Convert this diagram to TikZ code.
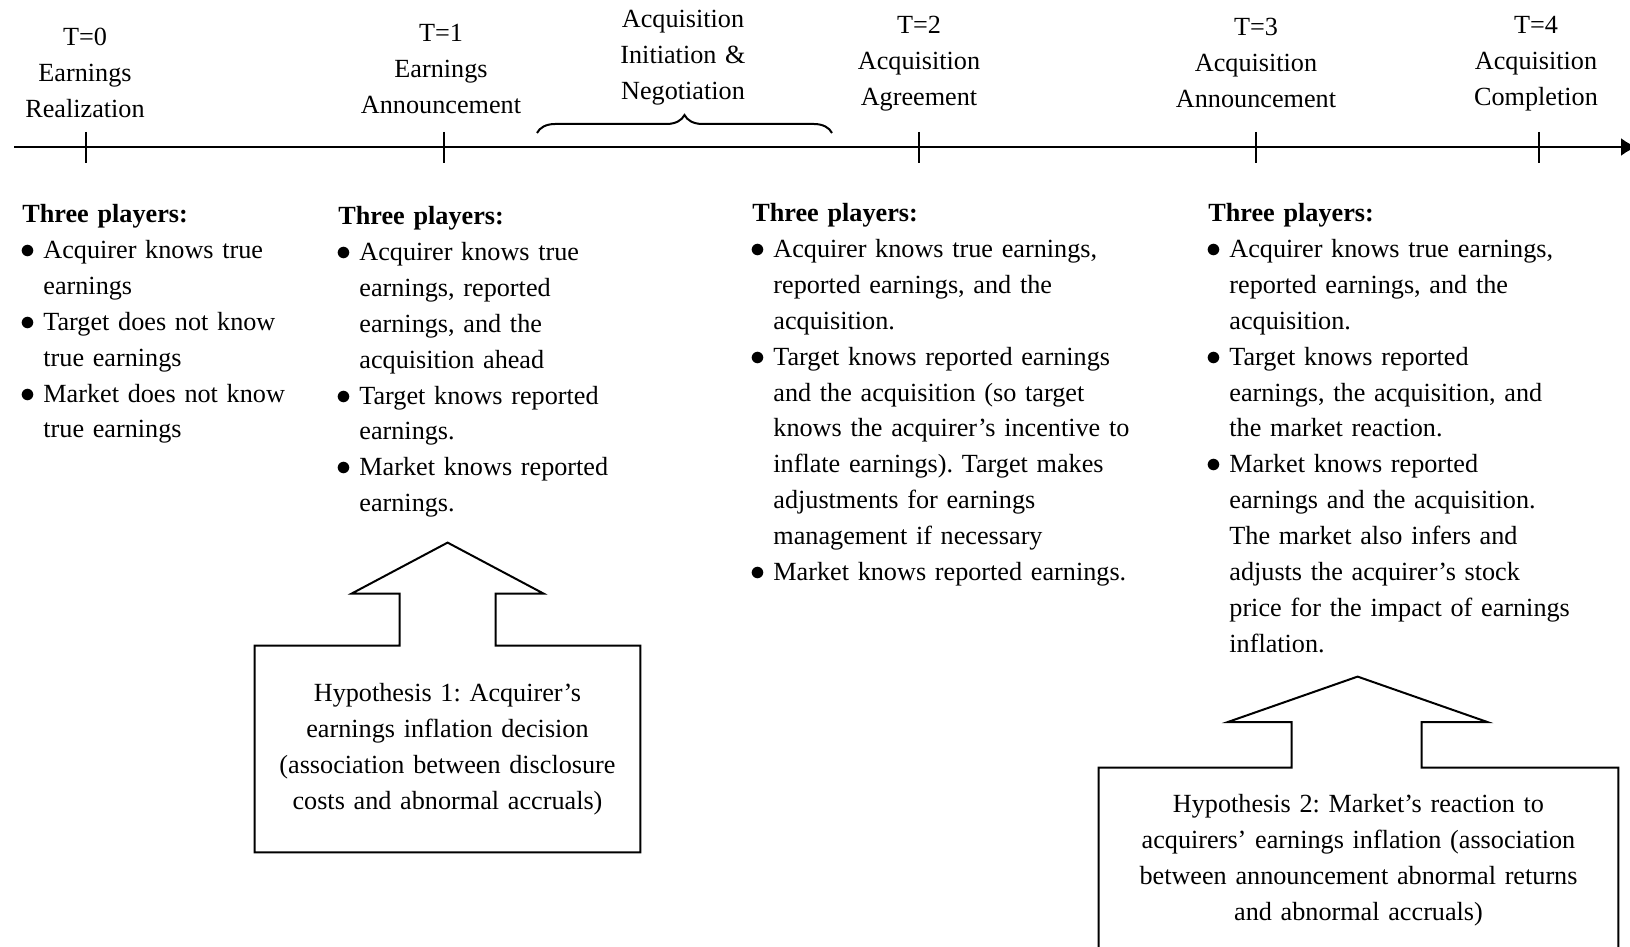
\documentclass[tikz,border=0pt]{standalone}
\usepackage{fontspec}
\setmainfont{Liberation Serif}
\usetikzlibrary{arrows.meta,decorations.pathreplacing}
\newcommand{\plfont}{\fontsize{13.1}{17.95}\selectfont\parskip=0pt\frenchspacing}
\newcommand{\plitem}[1]{\par\hangindent=10.5pt\hangafter=1\noindent
  \makebox[10.5pt][l]{\hspace*{-0.9pt}\scalebox{1.25}{$\bullet$}}#1\par}
\tikzstyle{line} = [draw, line width=1.1pt, -{Latex[length=8pt,width=9pt]}]
\tikzstyle{tickmark} = [draw, line width=1pt]
\tikzstyle{stage} = [text width=100pt, align=center, anchor=north, inner sep=0pt, font=\plfont]
\tikzstyle{players} = [anchor=north west, inner sep=0pt, align=left, font=\plfont]
\tikzstyle{hypo} = [rectangle, inner sep=0pt, align=center, font=\plfont]
\tikzstyle{callout} = [draw, line width=1pt, line join=miter]

\begin{document}
\begin{tikzpicture}[x=0.5pt, y=-0.5pt]
      \useasboundingbox (0,0) rectangle (1630,947);
      % Time line
      \coordinate (start) at (14,147);
      \coordinate (end) at (1637,147);
      \coordinate (t0) at (86,147);
      \coordinate (t1) at (444,147);
      \coordinate (t2) at (919,147);
      \coordinate (t3) at (1256,147);
      \coordinate (t4) at (1539,147);
      \path [line] (start) -- (end);
      \foreach \t in {t0,t1,t2,t3,t4}
        \path [tickmark] (\t) ++(0,-15) -- ++(0,31);

      % Stage labels
      \node [stage] (lab0) at (85,20) {\strut T=0\\Earnings\\Realization};
      \node [stage] (lab1) at (441,16) {\strut T=1\\Earnings\\Announcement};
      \node [stage] (labneg) at (683,2) {\strut Acquisition\\Initiation \&\\Negotiation};
      \node [stage] (lab2) at (919,8) {\strut T=2\\Acquisition\\Agreement};
      \node [stage] (lab3) at (1256,10) {\strut T=3\\Acquisition\\Announcement};
      \node [stage] (lab4) at (1536,8) {\strut T=4\\Acquisition\\Completion};

      % Brace over negotiation period
      \coordinate (negl) at (537,133);
      \coordinate (negr) at (832,133);
      \draw [decorate, decoration={brace, amplitude=9pt}, line width=1pt] (negl) -- (negr);

      % What the players know
      \node [players, text width=160pt] (know0) at (22,197) {\strut\textbf{Three players:}
        \plitem{Acquirer knows true\newline earnings}
        \plitem{Target does not know\newline true earnings}
        \plitem{Market does not know\newline true earnings}};
      \node [players, text width=170pt] (know1) at (338,199) {\strut\textbf{Three players:}
        \plitem{Acquirer knows true\newline earnings, reported\newline earnings, and the\newline acquisition ahead}
        \plitem{Target knows reported\newline earnings.}
        \plitem{Market knows reported\newline earnings.}};
      \node [players, text width=200pt] (know2) at (752,196) {\strut\textbf{Three players:}
        \plitem{Acquirer knows true earnings,\newline reported earnings, and the\newline acquisition.}
        \plitem{Target knows reported earnings\newline and the acquisition (so target\newline knows the acquirer's incentive to\newline inflate earnings). Target makes\newline adjustments for earnings\newline management if necessary}
        \plitem{Market knows reported earnings.}};
      \node [players, text width=205pt] (know3) at (1208,196) {\strut\textbf{Three players:}
        \plitem{Acquirer knows true earnings,\newline reported earnings, and the\newline acquisition.}
        \plitem{Target knows reported\newline earnings, the acquisition, and\newline the market reaction.}
        \plitem{Market knows reported\newline earnings and the acquisition.\newline The market also infers and\newline adjusts the acquirer's stock\newline price for the impact of earnings\newline inflation.}};

      % Hypotheses
      \node [hypo, text width=180pt, minimum width=192.5pt, minimum height=103pt] (hypA) at (447.5,749)
        {Hypothesis 1: Acquirer's\\earnings inflation decision\\(association between disclosure\\costs and abnormal accruals)};
      \draw [callout] (hypA.north west) -- ++(145,0) -- ++(0,-52) -- ++(-48,0) -- ++(96,-51)
        -- ++(96,51) -- ++(-48,0) -- ++(0,52) -- (hypA.north east) -- (hypA.south east)
        -- (hypA.south west) -- cycle;
      \node [hypo, text width=235pt, minimum width=259.5pt, minimum height=92pt] (hypB) at (1358.5,860)
        {Hypothesis 2: Market's reaction to\\acquirers' earnings inflation (association\\between announcement abnormal returns\\and abnormal accruals)};
      \draw [callout] (hypB.north west) -- ++(193,0) -- ++(0,-45.5) -- ++(-64,0) -- ++(130,-45.5)
        -- ++(130,45.5) -- ++(-66,0) -- ++(0,45.5) -- (hypB.north east) -- (hypB.south east)
        -- (hypB.south west) -- cycle;
\end{tikzpicture}
\end{document}
